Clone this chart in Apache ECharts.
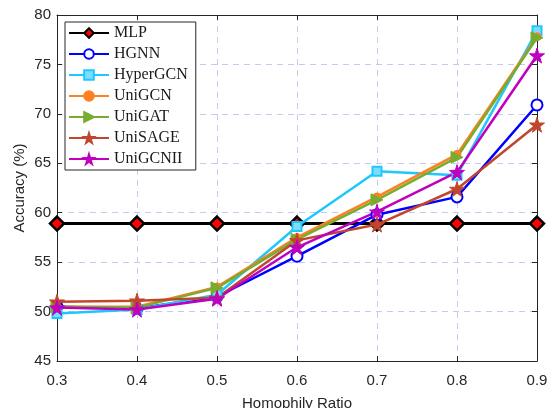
<!DOCTYPE html>
<html>
<head>
<meta charset="utf-8">
<script src="https://cdn.jsdelivr.net/npm/echarts@6/dist/echarts.min.js"></script>
<style>
  html, body { margin: 0; padding: 0; background: #fff; }
  #chart { width: 551px; height: 408px; }
</style>
</head>
<body>
<div id="chart"></div>
<script>
// data
const ratios = ['0.3', '0.4', '0.5', '0.6', '0.7', '0.8', '0.9'];
const mlp      = [58.9, 58.9, 58.9, 58.9, 58.9, 58.9, 58.9];
const hgnn     = [50.5, 50.3, 51.5, 55.6, 59.8, 61.6, 70.9];
const hypergcn = [49.8, 50.2, 51.7, 58.6, 64.2, 63.8, 78.4];
const unigcn   = [50.5, 50.5, 52.5, 57.5, 61.6, 65.9, 77.8];
const unigat   = [50.5, 50.4, 52.4, 57.3, 61.3, 65.6, 77.7];
const unisage  = [51.0, 51.1, 51.4, 57.2, 58.8, 62.4, 68.9];
const unigcnii = [50.4, 50.2, 51.3, 56.5, 60.1, 64.1, 75.9];
const yTicks = { min: 45, max: 80, step: 5 };

const star = 'path://M50,0 L61,35 L98,35 L68,57 L79,91 L50,70 L21,91 L32,57 L2,35 L39,35 Z';

function mkSeries(name, data, color, symbol, size, extra) {
    return Object.assign({
        name: name,
        type: 'line',
        data: data,
        symbol: symbol,
        symbolSize: size,
        lineStyle: { color: color, width: 2.5 },
        itemStyle: { color: color, borderColor: color, borderWidth: 1 },
        emphasis: { disabled: true },
        animation: false
    }, extra || {});
}

const chart = echarts.init(document.getElementById('chart'));

const axisText = { color: '#262626', fontSize: 15, fontFamily: 'Liberation Sans, Arial, sans-serif' };
const gridLine = { show: true, lineStyle: { color: '#c8c8f5', type: [6, 5], width: 1 } };

chart.setOption({
    backgroundColor: '#fff',
    grid: { left: 57, right: 14, top: 15, bottom: 47, outerBoundsMode: 'none', containLabel: false },
    legend: {
        orient: 'vertical',
        left: 65,
        top: 22,
        itemWidth: 40,
        itemHeight: 12,
        itemGap: 5,
        padding: [3, 8, 3, 3],
        backgroundColor: '#fff',
        borderColor: '#262626',
        borderWidth: 1,
        borderRadius: 0,
        textStyle: { fontFamily: 'Liberation Serif, Times New Roman, serif', fontSize: 16, color: '#1a1a1a' },
        data: ['MLP', 'HGNN', 'HyperGCN', 'UniGCN', 'UniGAT', 'UniSAGE', 'UniGCNII']
    },
    xAxis: [{
        type: 'category',
        data: ratios,
        boundaryGap: false,
        name: 'Homophily Ratio',
        nameLocation: 'middle',
        nameGap: 35,
        nameMoveOverlap: false,
        nameTextStyle: Object.assign({}, axisText, { fontSize: 15 }),
        axisLine: { lineStyle: { color: '#262626', width: 1 } },
        axisTick: { inside: true, length: 5, alignWithLabel: true, lineStyle: { color: '#262626' } },
        axisLabel: Object.assign({ margin: 12 }, axisText),
        splitLine: gridLine
    }, {
        type: 'category',
        data: ratios,
        boundaryGap: false,
        position: 'top',
        axisLine: { lineStyle: { color: '#262626', width: 1 } },
        axisTick: { inside: true, length: 5, lineStyle: { color: '#262626' } },
        axisLabel: { show: false },
        splitLine: { show: false }
    }],
    yAxis: [{
        type: 'value',
        min: yTicks.min,
        max: yTicks.max,
        interval: yTicks.step,
        name: 'Accuracy (%)',
        nameLocation: 'middle',
        nameGap: 30,
        nameMoveOverlap: false,
        nameTextStyle: Object.assign({}, axisText, { fontSize: 15 }),
        axisLine: { show: true, lineStyle: { color: '#262626', width: 1 } },
        axisTick: { show: true, inside: true, length: 5, lineStyle: { color: '#262626' } },
        axisLabel: Object.assign({ margin: 6 }, axisText),
        splitLine: gridLine
    }, {
        type: 'value',
        min: yTicks.min,
        max: yTicks.max,
        interval: yTicks.step,
        position: 'right',
        axisLine: { show: true, lineStyle: { color: '#262626', width: 1 } },
        axisTick: { show: true, inside: true, length: 5, lineStyle: { color: '#262626' } },
        axisLabel: { show: false },
        splitLine: { show: false }
    }],
    series: [
        mkSeries('MLP', mlp, '#000', 'diamond', 14, {
            lineStyle: { color: '#000', width: 3 },
            itemStyle: { color: '#ff0000', borderColor: '#000', borderWidth: 2.5 },
            z: 1
        }),
        mkSeries('HGNN', hgnn, '#0000ff', 'emptyCircle', 11, {
            itemStyle: { color: '#0000ff', borderColor: '#0000ff', borderWidth: 2.2 }
        }),
        mkSeries('HyperGCN', hypergcn, '#1ec8ff', 'rect', 9, {
            itemStyle: { color: '#7fdcff', borderColor: '#1ec8ff', borderWidth: 2 }
        }),
        mkSeries('UniGCN', unigcn, '#ff8020', 'circle', 8),
        mkSeries('UniGAT', unigat, '#77ac30', 'triangle', 12, { symbolRotate: -90 }),
        mkSeries('UniSAGE', unisage, '#c0462d', star, 15),
        mkSeries('UniGCNII', unigcnii, '#c000c0', star, 15)
    ]
});
</script>
</body>
</html>
